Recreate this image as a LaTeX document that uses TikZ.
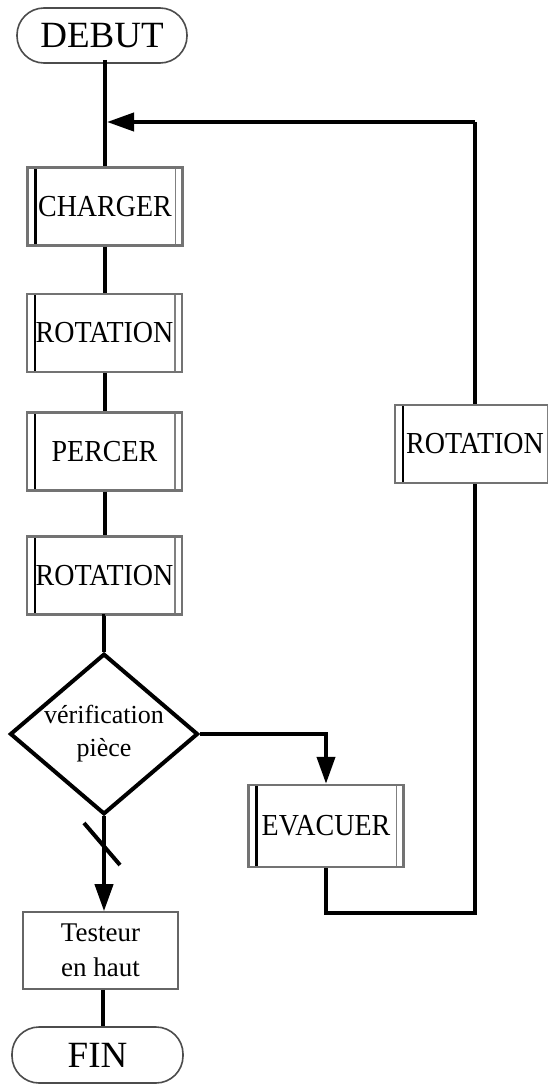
\documentclass[tikz,border=0pt]{standalone}
\usepackage{fontspec}
\setmainfont{Liberation Serif}
\usetikzlibrary{shapes.geometric,arrows.meta}
\newcommand{\vstretch}[1]{\scalebox{1}[1.09]{#1}}
\tikzset{
  conn/.style={line width=4pt, black},
  arr/.style={conn, -{Triangle[length=27pt,width=18pt]}},
  termbox/.style={rectangle, draw=black!70, line width=1.6pt, fill=white, rounded corners=27pt,
    inner sep=0pt, font=\fontsize{37}{40}\selectfont},
  stepbox/.style={rectangle, draw=black!55, line width=2.4pt, fill=white,
    minimum width=155pt, minimum height=78pt, inner sep=0pt, font=\fontsize{28}{30}\selectfont,
    path picture={
      \draw[black, line width=2.6pt] ([xshift=8pt]path picture bounding box.north west) -- ([xshift=8pt]path picture bounding box.south west);
      \draw[black!50, line width=1.8pt] ([xshift=-7pt]path picture bounding box.north east) -- ([xshift=-7pt]path picture bounding box.south east);
    }},
  plainbox/.style={rectangle, draw=black!60, line width=1.6pt, fill=white,
    minimum width=155pt, minimum height=77pt, inner sep=0pt, align=center,
    font=\fontsize{27}{35}\selectfont},
  decision/.style={diamond, draw=black, line width=4pt, fill=white, inner sep=-4pt,
    minimum width=188pt, minimum height=148pt, align=center, font=\fontsize{26}{33}\selectfont}
}
\begin{document}
\begin{tikzpicture}[x=1pt,y=-1pt]
\useasboundingbox (0,0) rectangle (547,1084);
\fill[white] (0,0) rectangle (547,1084);

\coordinate (merge) at (105,122);
\coordinate (loopy) at (0,913);

\node[termbox, minimum width=170pt, minimum height=55pt] (debut) at (102,35.5) {DEBUT};
\node[stepbox] (charger) at (105,206.5) {\vstretch{CHARGER}};
\node[stepbox] (rot1) at (104.5,333) {\vstretch{ROTATION}};
\node[stepbox] (percer) at (104.5,451.5) {\vstretch{PERCER}};
\node[stepbox] (rot2) at (104.5,575.5) {\vstretch{ROTATION}};
\node[decision] (verif) at (104,734) {vérification\\pièce};
\node[stepbox, minimum height=82pt] (evac) at (326,826) {\vstretch{EVACUER}};
\node[plainbox] (test) at (100.5,950.5) {Testeur\\en haut};
\node[termbox, minimum width=171pt, minimum height=56pt] (fin) at (97.5,1055) {FIN};

% connectors
\draw[conn] ([yshift=4pt]debut.south -| charger.north) -- (charger.north);
\draw[conn] (charger.south) -- (charger.south |- rot1.north);
\draw[conn] (rot1.south) -- (rot1.south |- percer.north);
\draw[conn] (percer.south) -- (percer.south |- rot2.north);
\draw[conn] (rot2.south) -- (rot2.south -| verif.north) -- (verif.north);
\draw[arr] (verif.east) -| (evac.north);
\draw[arr] (verif.south) -- (verif.south |- test.north);
\draw[conn] (test.south -| 103,0) -- (fin.north -| 103,0);
\draw[conn] (evac.south) -- (evac.south |- loopy) -- (475,913) -- (475,122);
\draw[arr] (475,122) -- ([xshift=2pt]merge);

% slash on the connector
\draw[conn] (84,823) -- (120,865);

% right rotation box on top of the loop line
\node[stepbox, minimum width=160pt] (rot3) at (475,444) {\vstretch{ROTATION}};
\end{tikzpicture}
\end{document}
